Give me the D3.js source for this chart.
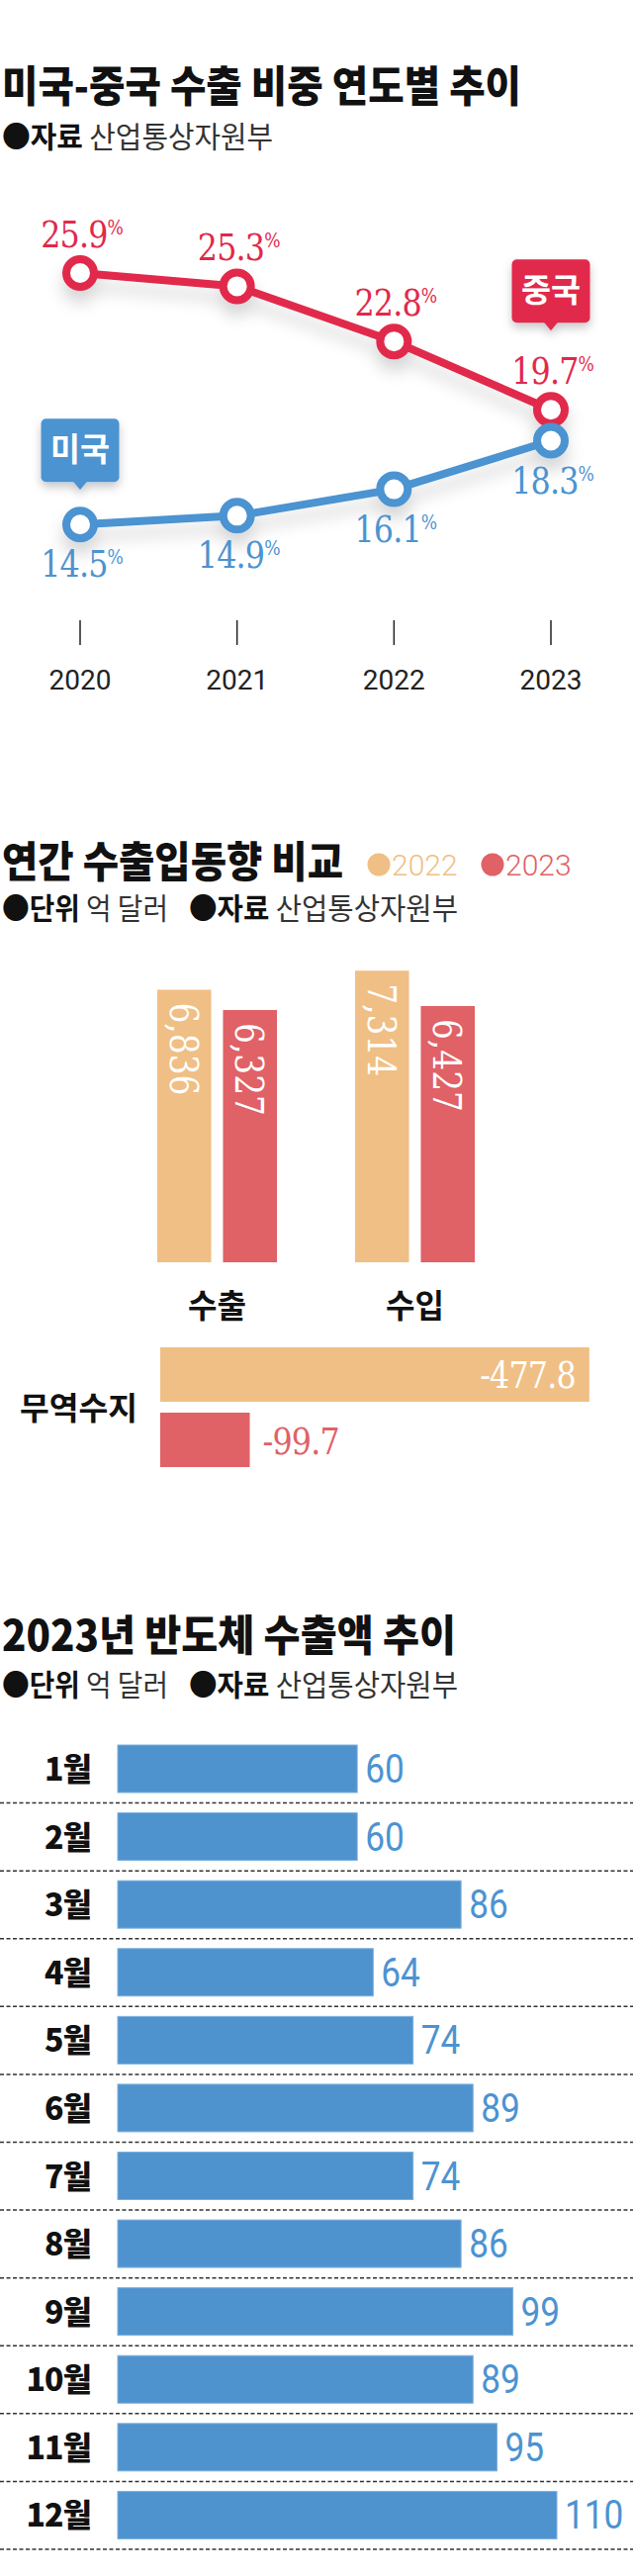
<!DOCTYPE html>
<html><head><meta charset="utf-8">
<script src="https://cdn.jsdelivr.net/npm/d3@7"></script>
<style>
html,body{margin:0;padding:0;background:#fff;}
svg{display:block;}
</style></head><body>
<svg id="c" width="640" height="2604"></svg>
<script>
// ---------- data ----------
const years = ["2020", "2021", "2022", "2023"];
const chinaShare = [25.9, 25.3, 22.8, 19.7];
const usShare = [14.5, 14.9, 16.1, 18.3];

const tradeCats = ["수출", "수입"];
const tradeYears = ["2022", "2023"];
const trade2022 = [6836, 7314];
const trade2023 = [6327, 6427];
const balanceLabel = "무역수지";
const balance = [-477.8, -99.7];

const months = ["1월","2월","3월","4월","5월","6월","7월","8월","9월","10월","11월","12월"];
const semiExports = [60, 60, 86, 64, 74, 89, 74, 86, 99, 89, 95, 110];

// ---------- style ----------
const KR = "'Noto Sans CJK KR','Noto Sans KR',sans-serif";
const SERIF = "'DejaVu Serif','Liberation Serif',serif";
const SANS = "Roboto,'Noto Sans',sans-serif";
const RED = "#E1294B", BLUE = "#4C93D1";
const C22 = "#F0BF85", C23 = "#E06166";
const fmt1 = v => d3.format(".1f")(v).replace("\u2212", "-");

const svg = d3.select("#c");
const defs = svg.append("defs");
const sh = defs.append("filter").attr("id","shadow").attr("x","-20%").attr("y","-40%").attr("width","140%").attr("height","220%");
sh.append("feDropShadow").attr("dx",0).attr("dy",12).attr("stdDeviation",8).attr("flood-color","#000").attr("flood-opacity",0.16);
const sh2 = defs.append("filter").attr("id","bshadow").attr("x","-30%").attr("y","-30%").attr("width","160%").attr("height","170%");
sh2.append("feDropShadow").attr("dx",0).attr("dy",5).attr("stdDeviation",5).attr("flood-color","#000").attr("flood-opacity",0.22);

function heading(y, text, width) {
  svg.append("text").attr("x", 2).attr("y", y)
    .attr("font-family", KR).attr("font-weight", 900).attr("font-size", 43)
    .attr("fill", "#111").attr("textLength", width).attr("lengthAdjust", "spacingAndGlyphs")
    .text(text);
}
function note(x, y, bold, normal, width) {
  const t = svg.append("text").attr("x", x).attr("y", y)
    .attr("font-family", KR).attr("font-size", 30).attr("fill", "#111")
    .attr("textLength", width).attr("lengthAdjust", "spacingAndGlyphs");
  t.append("tspan").attr("font-weight", 700).text("●" + bold);
  t.append("tspan").attr("font-weight", 400).attr("fill", "#333").text(" " + normal);
}
// condensed text helper
function ctext(g, x, y, sx) {
  return g.append("text").attr("transform", `translate(${x},${y}) scale(${sx},1)`);
}

// =============== Chart 1: line chart ===============
heading(103, "미국-중국 수출 비중 연도별 추이", 525);
note(2, 149, "자료", "산업통상자원부", 274);

const x1 = d3.scalePoint().domain(years).range([81, 557]);
const y1 = d3.scaleLinear().domain([10, 30]).range([630.6, 184.6]);
const line = d3.line().x((d, i) => x1(years[i])).y(d => y1(d));

const series = [
  { name: "중국", values: chinaShare, color: RED, above: true, bubbleIdx: 3 },
  { name: "미국", values: usShare, color: BLUE, above: false, bubbleIdx: 0 }
];

const g1 = svg.append("g");
series.forEach(s => {
  const g = g1.append("g").attr("filter", "url(#shadow)");
  g.append("path").attr("d", line(s.values)).attr("fill", "none")
    .attr("stroke", s.color).attr("stroke-width", 8).attr("stroke-linejoin", "round");
  g.selectAll("circle").data(s.values).join("circle")
    .attr("cx", (d, i) => x1(years[i])).attr("cy", d => y1(d)).attr("r", 14)
    .attr("fill", "#fff").attr("stroke", s.color).attr("stroke-width", 8);
});
series.forEach(s => {
  s.values.forEach((v, i) => {
    const px = x1(years[i]) + 2, py = y1(v) + (s.above ? -26 : 53);
    const t = ctext(g1, px, py, 0.86).attr("text-anchor", "middle")
      .attr("font-family", SERIF).attr("fill", s.color);
    t.append("tspan").attr("font-size", 37).attr("letter-spacing", -1).text(fmt1(v));
    t.append("tspan").attr("font-size", 20).attr("dy", -13).text("%");
  });
  // bubble tag
  const bi = s.bubbleIdx;
  const bx = x1(years[bi]), tip = y1(s.values[bi]) + (s.above ? -80 : -35);
  const b = g1.append("g").attr("transform", `translate(${bx},${tip})`);
  const bb = b.append("g").attr("filter", "url(#bshadow)");
  bb.append("rect").attr("x", -39.5).attr("y", -72).attr("width", 79).attr("height", 64)
    .attr("rx", 5).attr("fill", s.color);
  bb.append("path").attr("d", "M-7,-8.5 L0,0 L7,-8.5 Z").attr("fill", s.color);
  b.append("text").attr("x", 0).attr("y", -29).attr("text-anchor", "middle")
    .attr("font-family", KR).attr("font-weight", 700).attr("font-size", 33)
    .attr("fill", "#fff").attr("textLength", 60).attr("lengthAdjust", "spacingAndGlyphs")
    .text(s.name);
});
// axis ticks
const ax = g1.append("g");
years.forEach(yr => {
  ax.append("line").attr("x1", x1(yr)).attr("x2", x1(yr)).attr("y1", 627).attr("y2", 652)
    .attr("stroke", "#222").attr("stroke-width", 1.5);
  ax.append("text").attr("x", x1(yr)).attr("y", 697).attr("text-anchor", "middle")
    .attr("font-family", SANS).attr("font-size", 28).attr("fill", "#222").text(yr);
});

// =============== Chart 2: trade ===============
heading(887, "연간 수출입동향 비교", 345);
[[tradeYears[0], C22, 383], [tradeYears[1], C23, 498]].forEach(([lab, col, lx]) => {
  svg.append("circle").attr("cx", lx).attr("cy", 874).attr("r", 11.5).attr("fill", col);
  svg.append("text").attr("x", lx + 13).attr("y", 885).attr("font-family", SANS)
    .attr("font-weight", 300).attr("font-size", 30).attr("fill", col).text(lab);
});
note(2, 929, "단위", "억 달러", 168);
note(191, 929, "자료", "산업통상자원부", 272);

const gx = d3.scalePoint().domain(tradeCats).range([219.5, 419.5]);
const ix = d3.scaleBand().domain(tradeYears).range([-60.5, 60.5]).paddingInner(0.18);
const y2 = d3.scaleLinear().domain([0, 8000]).range([1276, 953.6]);
const tradeData = [];
tradeCats.forEach((c, ci) => {
  tradeData.push({ cat: c, yr: tradeYears[0], v: trade2022[ci], col: C22 });
  tradeData.push({ cat: c, yr: tradeYears[1], v: trade2023[ci], col: C23 });
});
const g2 = svg.append("g");
g2.selectAll("rect").data(tradeData).join("rect")
  .attr("x", d => gx(d.cat) + ix(d.yr)).attr("width", ix.bandwidth())
  .attr("y", d => y2(d.v)).attr("height", d => y2(0) - y2(d.v))
  .attr("fill", d => d.col);
tradeData.forEach(d => {
  const cx = gx(d.cat) + ix(d.yr) + ix.bandwidth() / 2;
  g2.append("text")
    .attr("transform", `translate(${cx},${y2(d.v) + 13}) rotate(90) scale(0.82,1)`)
    .attr("dy", "0.36em")
    .attr("font-family", SERIF).attr("font-size", 40).attr("fill", "#fff")
    .text(d3.format(",")(d.v));
});
tradeCats.forEach(c => {
  g2.append("text").attr("x", gx(c)).attr("y", 1332).attr("text-anchor", "middle")
    .attr("font-family", KR).attr("font-weight", 700).attr("font-size", 33).attr("fill", "#111")
    .attr("textLength", 59).attr("lengthAdjust", "spacingAndGlyphs").text(c);
});
// trade balance
const bx2 = d3.scaleLinear().domain([0, 500]).range([162, 616]);
const by2 = d3.scaleBand().domain(tradeYears).range([1362, 1483]).paddingInner(0.167);
g2.append("text").attr("x", 20).attr("y", 1435).attr("font-family", KR).attr("font-weight", 700)
  .attr("font-size", 32).attr("fill", "#111").attr("textLength", 119)
  .attr("lengthAdjust", "spacingAndGlyphs").text(balanceLabel);
balance.forEach((v, i) => {
  const yr = tradeYears[i], col = i === 0 ? C22 : C23;
  const w = bx2(Math.abs(v)) - bx2(0);
  g2.append("rect").attr("x", bx2(0)).attr("y", by2(yr)).attr("width", w)
    .attr("height", by2.bandwidth()).attr("fill", col);
  const inside = w > 150;
  const tx = inside ? bx2(Math.abs(v)) - 14 : bx2(Math.abs(v)) + 13;
  ctext(g2, tx, by2(yr) + by2.bandwidth() / 2 + 14, 0.86)
    .attr("text-anchor", inside ? "end" : "start")
    .attr("font-family", SERIF).attr("font-size", 37).attr("letter-spacing", -1)
    .attr("fill", inside ? "#fff" : col).text(fmt1(v));
});

// =============== Chart 3: monthly semiconductor ===============
heading(1669, "2023년 반도체 수출액 추이", 459);
note(2, 1714, "단위", "억 달러", 168);
note(191, 1714, "자료", "산업통상자원부", 272);

const y3 = d3.scaleBand().domain(months).range([1754, 2577]);
const x3 = d3.scaleLinear().domain([0, 110]).range([119, 563]);
const g3 = svg.append("g");
g3.selectAll("line.sep").data(months).join("line").attr("class", "sep")
  .attr("x1", 0).attr("x2", 640)
  .attr("y1", d => y3(d) + y3.step()).attr("y2", d => y3(d) + y3.step())
  .attr("stroke", "#333").attr("stroke-width", 1.5).attr("stroke-dasharray", "4,2.5");
g3.selectAll("rect").data(semiExports).join("rect")
  .attr("x", x3(0)).attr("y", (d, i) => y3(months[i]) + 10)
  .attr("width", d => x3(d) - x3(0)).attr("height", 48)
  .attr("fill", "#4F93CE").attr("stroke", "#7DB0DE").attr("stroke-width", 1);
months.forEach((m, i) => {
  const cy = y3(m) + 34;
  g3.append("text").attr("x", 92).attr("y", cy + 12).attr("text-anchor", "end")
    .attr("font-family", KR).attr("font-weight", 900).attr("font-size", 32)
    .attr("letter-spacing", -1).attr("fill", "#111").text(m);
  ctext(g3, x3(semiExports[i]) + 8, cy + 14, 0.88)
    .attr("font-family", SANS).attr("font-size", 40).attr("fill", "#4C93D1")
    .text(semiExports[i]);
});
</script>
</body></html>
